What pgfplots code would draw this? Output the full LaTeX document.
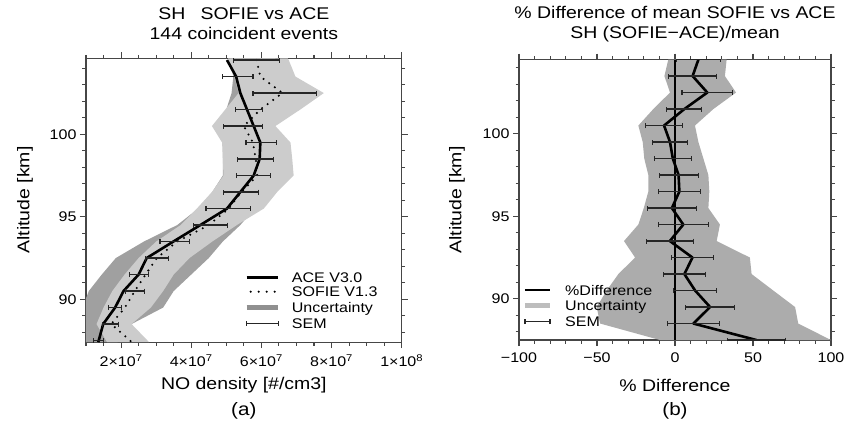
\documentclass[border=0pt]{standalone}
\usepackage{fontspec}
\setmainfont{Liberation Sans}[FakeStretch=1.15]
\usepackage{pgfplots}
\usepackage{pgfplotstable}
\pgfplotsset{compat=1.18}
\definecolor{lband}{RGB}{204,204,204}
\definecolor{dband}{RGB}{160,160,160}
\definecolor{bband}{RGB}{172,172,172}
\definecolor{axgray}{RGB}{70,70,70}

% altitude, ACE, SOFIE  (NO density, cm^-3)
\pgfplotstableread{
alt ace sofie
104.5 5.02e7 5.86e7
103.5 5.28e7 5.97e7
102.5 5.40e7 6.60e7
101.5 5.59e7 5.97e7
100.5 5.78e7 5.50e7
99.5 5.97e7 5.76e7
98.5 5.95e7 5.84e7
97.5 5.78e7 5.88e7
96.5 5.40e7 5.43e7
95.5 5.02e7 5.07e7
94.5 4.26e7 4.50e7
93.5 3.49e7 3.60e7
92.5 2.73e7 3.02e7
91.5 2.50e7 2.70e7
90.5 2.07e7 2.39e7
89.5 1.83e7 2.11e7
88.5 1.49e7 1.72e7
87.4 1.35e7 2.31e7
}\profiles

\pgfplotstableread{
alt v e
104.5 5.86e7 0.65e7
102.5 6.66e7 0.90e7
100.5 5.47e7 0.55e7
98.5 5.84e7 0.51e7
96.5 5.42e7 0.50e7
94.5 4.55e7 0.48e7
92.5 3.02e7 0.33e7
90.5 2.39e7 0.27e7
88.5 1.70e7 0.22e7
}\semsofie

\pgfplotstableread{
alt v e
103.5 5.32e7 0.44e7
101.5 5.64e7 0.38e7
99.5 5.99e7 0.43e7
97.5 5.77e7 0.49e7
95.5 5.05e7 0.63e7
93.5 3.53e7 0.42e7
91.5 2.51e7 0.27e7
89.5 1.83e7 0.19e7
87.5 1.36e7 0.15e7
}\semace

% % difference, SEM, uncertainty band
\pgfplotstableread{
alt d e
104.5 15.0 14.2
103.5 11.3 15.3
102.5 20.7 16.2
101.5 6.0 11.2
100.5 -7.0 11.75
99.5 -3.2 11.3
98.5 -1.4 11.7
97.5 2.3 12.5
96.5 2.8 13.4
95.5 -2.0 15.8
94.5 5.3 16.0
93.5 -3.3 15.2
92.5 11.2 13.6
91.5 6.0 13.6
90.5 12.9 13.7
89.5 22.5 15.8
88.5 11.8 16.5
87.5 52.2 18.5
}\diff

\newcommand{\tf}{\fontsize{14}{17}\selectfont}
\newcommand{\lf}{\fontsize{17}{20}\selectfont}
\pgfplotsset{
  myax/.style={
    scale only axis,
    axis line style={axgray, line width=1.2bp},
    every tick/.style={axgray, line width=1.1bp},
    tick align=outside,
    major tick length=6bp,
    minor tick length=3.5bp,
    tick label style={font=\tf},
    xticklabel style={yshift=-3bp},
    label style={font=\lf},
    title style={font=\lf},
    ytick={90,95,100},
    yticklabels={90,95,100},
    minor ytick={88,89,91,92,93,94,96,97,98,99,101,102,103,104},
    ylabel={Altitude [km]},
    clip=true,
  },
  semstyle/.style={forget plot, draw=none, mark=none, error bars/.cd, x dir=both, x explicit,
    error mark=|,
    error bar style={draw=black!85, solid, line width=1.1bp},
    error mark options={draw=black!85, solid, line width=1.1bp, mark size=2.5bp}},
}

\begin{document}
\begin{tikzpicture}[font=\tf]
\path[use as bounding box] (0,0) rectangle (856bp,428bp);

% ---------------- (a) ----------------
\begin{axis}[myax,
  at={(86bp,85.8bp)}, anchor=south west,
  width=315.7bp, height=283.8bp,
  xmin=1e7, xmax=1e8, ymin=87.4, ymax=104.6,
  scaled x ticks=false,
  xtick={2e7,4e7,6e7,8e7,1e8},
  xticklabels={2×10\textsuperscript{7},4×10\textsuperscript{7},6×10\textsuperscript{7},8×10\textsuperscript{7},1×10\textsuperscript{8}},
  minor xtick={1e7,1.5e7,2.5e7,3e7,3.5e7,4.5e7,5e7,5.5e7,6.5e7,7e7,7.5e7,8.5e7,9e7,9.5e7},
  title={SH\hspace{0.9em}SOFIE vs ACE\\144 coincident events},
  title style={at={(axis description cs:0.5,1.121)}, anchor=center, align=center, yshift=-6bp},
  xlabel={NO density [\#/cm3]},
  xlabel style={at={(axis description cs:0.5,-0.151)}, anchor=center},
  ylabel style={at={(axis description cs:-0.193,0.501)}, anchor=center},
  extra description/.code={
    \node[anchor=center, font=\fontsize{18}{21}\selectfont] at (0.5,-0.2424) {(a)};
    \draw[black, line width=2.6bp] (0.509,0.2287) -- (0.609,0.2287);
    \node[anchor=base west, inner sep=0pt, yshift=-5bp] at (0.6516,0.2287) {ACE V3.0};
    \draw[black, line width=2.3bp, dash pattern=on 0bp off 8bp, line cap=round, dash phase=-4bp] (0.509,0.178) -- (0.609,0.178);
    \node[anchor=base west, inner sep=0pt, yshift=-5bp] at (0.6516,0.178) {SOFIE V1.3};
    \draw[dband!90!black, line width=4.5bp] (0.509,0.123) -- (0.609,0.123);
    \node[anchor=base west, inner sep=0pt, yshift=-5bp] at (0.6516,0.123) {Uncertainty};
    \draw[black!85, line width=1.1bp] (0.509,0.0666) -- (0.609,0.0666);
    \draw[black!85, line width=1.1bp] (0.509,0.0666) ++(0bp,-2.5bp) -- ++(0bp,5bp);
    \draw[black!85, line width=1.1bp] (0.609,0.0666) ++(0bp,-2.5bp) -- ++(0bp,5bp);
    \node[anchor=base west, inner sep=0pt, yshift=-5bp] at (0.6516,0.0666) {SEM};
  },
]
% ACE uncertainty (dark)
\addplot[forget plot, fill=dband, draw=none] coordinates {
(5.10e7,104.6) (5.10e7,104.5) (5.20e7,103.5) (5.15e7,102.5) (5.00e7,101.5) (4.70e7,100.5)
(4.90e7,99.5) (4.90e7,98.5) (4.90e7,97.5) (4.60e7,96.5) (4.20e7,95.5) (3.60e7,94.5)
(2.65e7,93.5) (1.85e7,92.5) (1.45e7,91.5) (1.08e7,90.5) (0.90e7,89.5) (0.90e7,88.5) (0.90e7,87.4)
(1.90e7,87.4) (2.30e7,88.5) (3.20e7,89.5) (3.50e7,90.5) (4.00e7,91.5) (4.50e7,92.5)
(4.90e7,93.5) (5.40e7,94.5) (5.80e7,95.5) (6.20e7,96.5) (6.50e7,97.5) (6.50e7,98.5)
(6.40e7,99.5) (6.10e7,100.5) (6.60e7,101.5) (7.00e7,102.5) (6.50e7,103.5) (6.40e7,104.5) (6.40e7,104.6)
} -- cycle;
% SOFIE uncertainty (light)
\addplot[forget plot, fill=lband, draw=none] coordinates {
(5.05e7,104.6) (5.07e7,104.5) (5.23e7,103.5) (5.35e7,102.5) (4.97e7,101.5) (4.59e7,100.5)
(4.88e7,99.5) (4.90e7,98.5) (4.92e7,97.5) (4.59e7,96.5) (4.16e7,95.5) (3.70e7,94.5)
(3.00e7,93.5) (2.50e7,92.5) (2.10e7,91.5) (1.75e7,90.5) (1.50e7,89.5) (1.30e7,88.5) (1.60e7,87.4)
(2.80e7,87.4) (2.30e7,88.5) (2.85e7,89.5) (3.20e7,90.5) (3.50e7,91.5) (3.95e7,92.5)
(4.60e7,93.5) (5.30e7,94.5) (6.07e7,95.5) (6.45e7,96.5) (6.92e7,97.5) (6.88e7,98.5)
(6.83e7,99.5) (6.40e7,100.5) (7.11e7,101.5) (7.78e7,102.5) (6.97e7,103.5) (6.78e7,104.5) (6.75e7,104.6)
} -- cycle;
\addplot[forget plot, black, line width=2.6bp, line join=round] table[x=ace, y=alt] {\profiles};
\addplot[forget plot, black, line width=2.3bp, dash pattern=on 0bp off 7bp, line cap=round] table[x=sofie, y=alt] {\profiles};
\addplot[semstyle] table[x=v, y=alt, x error=e] {\semsofie};
\addplot[semstyle] table[x=v, y=alt, x error=e] {\semace};
\end{axis}

% ---------------- (b) ----------------
\begin{axis}[myax,
  at={(519bp,87.95bp)}, anchor=south west,
  width=312bp, height=280.5bp,
  xmin=-100, xmax=100, ymin=87.5, ymax=104.5,
  xtick={-100,-50,0,50,100},
  xticklabels={−100,−50,0,50,100},
  minor xtick={-90,-80,-70,-60,-40,-30,-20,-10,10,20,30,40,60,70,80,90},
  title={\% Difference of mean SOFIE vs ACE\\SH (SOFIE−ACE)/mean},
  title style={at={(axis description cs:0.5,1.127)}, anchor=center, align=center, yshift=-6bp},
  xlabel={\% Difference},
  xlabel style={at={(axis description cs:0.5,-0.1603)}, anchor=center},
  ylabel style={at={(axis description cs:-0.199,0.499)}, anchor=center},
  extra description/.code={
    \node[anchor=center, font=\fontsize{18}{21}\selectfont] at (0.5,-0.253) {(b)};
    \draw[black, line width=2.6bp] (0.0192,0.1784) -- (0.0994,0.1784);
    \node[anchor=base west, inner sep=0pt, yshift=-5bp] at (0.1474,0.1784) {\%Difference};
    \draw[bband!80!white, line width=4.5bp] (0.0192,0.1225) -- (0.0994,0.1225);
    \node[anchor=base west, inner sep=0pt, yshift=-5bp] at (0.1474,0.1225) {Uncertainty};
    \draw[black!85, line width=1.1bp] (0.0192,0.0654) -- (0.0994,0.0654);
    \draw[black!85, line width=1.1bp] (0.0192,0.0654) ++(0bp,-2.5bp) -- ++(0bp,5bp);
    \draw[black!85, line width=1.1bp] (0.0994,0.0654) ++(0bp,-2.5bp) -- ++(0bp,5bp);
    \node[anchor=base west, inner sep=0pt, yshift=-5bp] at (0.1474,0.0654) {SEM};
  },
]
\addplot[forget plot, fill=bband, draw=none] coordinates {
(-4.3,104.5) (-6.8,103.5) (-3.2,102.5) (-13.9,101.5) (-23.5,100.5) (-20.7,99.5) (-19.7,98.5)
(-17.1,97.5) (-17.1,96.5) (-20.0,95.5) (-23.5,94.5) (-32.7,93.5) (-25.6,92.5) (-36.3,91.5)
(-43.8,90.5) (-50.2,89.5) (-48.0,88.5) (-9.6,87.5)
(100,87.5) (79,88.5) (77,89.5) (63,90.5) (49.1,91.5) (48,92.5) (26.7,93.5) (28.8,94.5)
(21.4,95.5) (22,96.5) (21.4,97.5) (18.2,98.5) (15,99.5) (12.8,100.5) (24.6,101.5) (39.1,102.5)
(32,103.5) (33.1,104.5)
} -- cycle;
\addplot[forget plot, black, line width=1.2bp] coordinates {(0,87.5) (0,104.5)};
\addplot[forget plot, black, line width=2.6bp, line join=round] table[x=d, y=alt] {\diff};
\addplot[semstyle] table[x=d, y=alt, x error=e] {\diff};
\end{axis}
\end{tikzpicture}
\end{document}
